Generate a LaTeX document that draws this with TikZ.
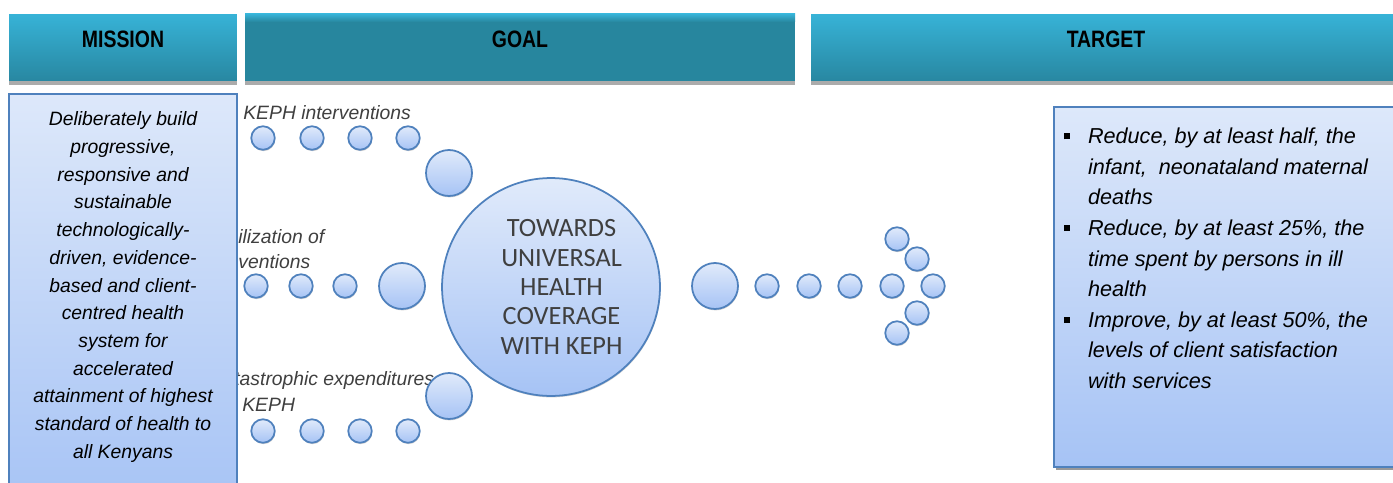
\documentclass[tikz,border=0pt]{standalone}
\usepackage{fontspec}
\setmainfont{Liberation Sans}
\newfontfamily\headfont[FakeStretch=0.82]{Liberation Sans}
\newfontfamily\hubfont{Carlito}
\usetikzlibrary{shapes,positioning,shadows,backgrounds}

\definecolor{barlight}{HTML}{37B3D7}
\definecolor{bardark}{HTML}{2887A1}
\definecolor{goalteal}{HTML}{27869E}
\definecolor{boxtop}{HTML}{DDE8FA}
\definecolor{boxbottom}{HTML}{A6C3F5}
\definecolor{rimblue}{HTML}{4F81BD}
\definecolor{inkgray}{HTML}{3F3F3F}

\tikzset{
    headbar/.style={rectangle, minimum height=1.34cm, inner sep=0pt,
        drop shadow={shadow xshift=0pt, shadow yshift=-0.08cm, fill=black!33, opacity=1}},
    headtext/.style={font=\headfont\bfseries\fontsize{13.5}{16}\selectfont, text=black},
    panel/.style={rectangle, draw=rimblue, line width=1.1pt, top color=boxtop, bottom color=boxbottom},
    bubble/.style={circle, draw=rimblue, line width=1pt, inner sep=0pt,
        top color=boxtop!90!white, bottom color=boxbottom,
        drop shadow={shadow xshift=0.3pt, shadow yshift=-0.8pt, fill=black, opacity=0.18}},
    dot/.style={bubble, minimum size=0.47cm},
    blob/.style={bubble, minimum size=0.92cm},
    stream/.style={font=\itshape\fontsize{11}{13.5}\selectfont, text=inkgray, inner sep=0pt, anchor=west}
}

\begin{document}
\begin{tikzpicture}[x=0.02cm, y=-0.02cm]
    \useasboundingbox (0,0) rectangle (1393,483);

    % Column headers
    \node[headbar, minimum width=4.56cm, top color=barlight, bottom color=bardark] (missionbar) at (123,47.5) {};
    \node[headbar, minimum width=11cm, fill=goalteal] (goalbar) at (520,47.5) {};
    \shade[top color=barlight, bottom color=goalteal] (245,14) rectangle (795,22);
    \node[headbar, minimum width=11.8cm, top color=barlight, bottom color=bardark] (targetbar) at (1106,47.5) {};
    \node[headtext] (missionhead) at (123,39) {MISSION};
    \node[headtext] (goalhead) at (520,39) {GOAL};
    \node[headtext] (targethead) at (1106,39) {TARGET};

    % Streams feeding the goal
    \node[stream] (accesslbl) at (243,113) {KEPH interventions};
    \node[stream] (uselbl) at (238,237) {ilization of};
    \node[stream] (uselbl2) at (238,262) {ventions};
    \node[stream] (costlbl) at (234,381) {tastrophic expenditures};
    \node[stream] (costlbl2) at (242,405) {KEPH};

    \node[dot] (a1) at (263,138) {};
    \node[dot] (a2) at (312,138) {};
    \node[dot] (a3) at (360,138) {};
    \node[dot] (a4) at (408,138) {};
    \node[blob] (a5) at (449,173) {};

    \node[dot] (u1) at (256,286) {};
    \node[dot] (u2) at (301,286) {};
    \node[dot] (u3) at (345,286) {};
    \node[blob] (u4) at (402,286) {};

    \node[dot] (c1) at (263,431) {};
    \node[dot] (c2) at (312,431) {};
    \node[dot] (c3) at (360,431) {};
    \node[dot] (c4) at (408,431) {};
    \node[blob] (c5) at (449,396) {};

    % Hub
    \node[bubble, minimum size=4.36cm, text=inkgray, align=center,
        font=\hubfont\fontsize{15}{16.7}\selectfont] (hub) at (551,287)
        {\hspace*{12pt}TOWARDS\\\hspace*{12pt}UNIVERSAL\\\hspace*{12pt}HEALTH\\\hspace*{12pt}COVERAGE\\\hspace*{12pt}WITH KEPH};

    % Outgoing arrow of dots
    \node[blob] (o1) at (715,286) {};
    \node[dot] (o2) at (767,286) {};
    \node[dot] (o3) at (809,286) {};
    \node[dot] (o4) at (850,286) {};
    \node[dot] (o5) at (892,286) {};
    \node[dot] (tip) at (933,286) {};
    \node[dot] (up1) at (917,259) {};
    \node[dot] (up2) at (897,239) {};
    \node[dot] (dn1) at (917,313) {};
    \node[dot] (dn2) at (897,333) {};

    % Mission panel
    \node[panel, minimum width=4.56cm, minimum height=8.3cm] (missionbox) at (123,301) {};
    \node[align=center, font=\itshape\fontsize{11}{15.75}\selectfont] (missiontext) at (123,287)
        {Deliberately build\\progressive,\\responsive and\\sustainable\\technologically-\\driven, evidence-\\based and client-\\centred health\\system for\\accelerated\\attainment of highest\\standard of health to\\all Kenyans};

    % Target panel
    \node[panel, minimum width=6.95cm, minimum height=7.2cm,
        drop shadow={shadow xshift=1.2pt, shadow yshift=-1.5pt, fill=black!40, opacity=1}] (targetbox) at (1228,287) {};
    \node[anchor=north west, inner sep=0pt, font=\itshape\fontsize{12.3}{17.4}\selectfont] (targettext) at (1064,122)
        {\begin{tabular}{@{}p{13.5pt}@{}l@{}}
        \rule[2.5pt]{3.4pt}{3.4pt} & Reduce, by at least half, the\\
         & infant,\ \ neonataland maternal\\
         & deaths\\
        \rule[2.5pt]{3.4pt}{3.4pt} & Reduce, by at least 25\%, the\\
         & time spent by persons in ill\\
         & health\\
        \rule[2.5pt]{3.4pt}{3.4pt} & Improve, by at least 50\%, the\\
         & levels of client satisfaction\\
         & with services
        \end{tabular}};
\end{tikzpicture}
\end{document}
